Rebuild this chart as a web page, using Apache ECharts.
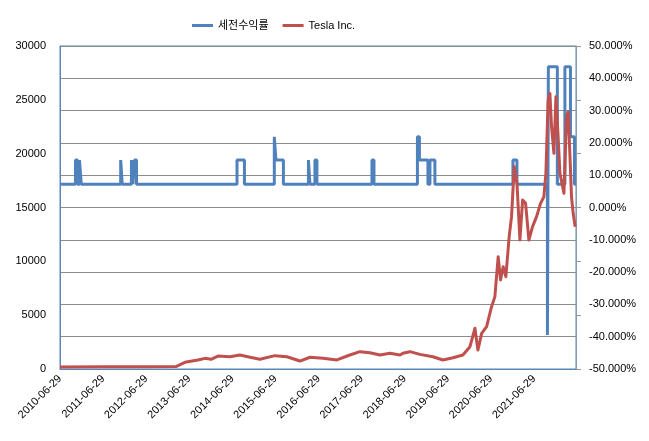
<!DOCTYPE html>
<html>
<head>
<meta charset="utf-8">
<script src="https://cdn.jsdelivr.net/npm/echarts@6/dist/echarts.min.js"></script>
<style>
  html, body { margin: 0; padding: 0; background: #fff; }
  #chart { width: 649px; height: 441px; }
</style>
</head>
<body>
<div id="chart"></div>
<script>
// x축 라벨 (1년 간격)
var xLabels = ['2010-06-29', '2011-06-29', '2012-06-29', '2013-06-29', '2014-06-29', '2015-06-29',
  '2016-06-29', '2017-06-29', '2018-06-29', '2019-06-29', '2020-06-29', '2021-06-29'];

// 세전수익률 (%), 값이 바뀌는 날짜
var retDates = ['2010-06-29', '2010-11-07', '2010-11-24', '2010-12-11', '2010-12-26',
  '2011-11-25', '2011-12-08', '2012-02-24', '2012-03-08', '2012-03-21', '2012-04-07',
  '2014-08-06', '2014-10-08', '2015-06-18', '2015-07-02', '2015-09-03',
  '2016-04-02', '2016-04-15', '2016-05-27', '2016-06-13', '2017-09-22', '2017-10-09',
  '2018-10-12', '2018-10-29', '2019-01-09', '2019-01-26', '2019-03-09',
  '2020-12-29', '2021-02-01', '2021-10-17', '2021-10-25', '2022-01-09',
  '2022-03-14', '2022-04-30', '2022-06-03', '2022-06-15'];
var retValues = [7.2, 14.7, 7.2, 14.7, 7.2,
  14.7, 7.2, 14.7, 7.2, 14.7, 7.2,
  14.7, 7.2, 21.9, 14.7, 7.2,
  14.7, 7.2, 14.7, 7.2, 14.7, 7.2,
  21.9, 14.7, 7.2, 14.7, 7.2,
  14.7, 7.2, -39.5, 43.6, 7.2,
  43.6, 21.9, 7.2, 7.2];

// Tesla Inc.
var teslaDates = ['2010-06-29', '2011-06-29', '2012-06-29', '2013-03-07', '2013-05-22', '2013-09-09',
  '2013-11-08', '2013-12-29', '2014-02-26', '2014-06-07', '2014-08-31', '2014-11-24', '2015-02-16',
  '2015-06-23', '2015-10-03', '2016-01-21', '2016-04-15', '2016-08-03', '2016-11-29', '2017-03-19',
  '2017-06-12', '2017-09-05', '2017-11-29', '2018-02-21', '2018-05-17', '2018-06-11', '2018-08-09',
  '2018-11-02', '2019-02-20', '2019-05-16', '2019-08-09', '2019-11-01', '2019-12-31', '2020-02-11',
  '2020-03-07', '2020-04-08', '2020-05-20', '2020-07-01', '2020-07-29', '2020-08-26', '2020-09-15',
  '2020-10-07', '2020-10-30', '2020-11-27', '2020-12-17', '2021-01-09', '2021-02-01', '2021-02-26',
  '2021-03-21', '2021-04-15', '2021-05-13', '2021-06-13', '2021-07-17', '2021-08-20', '2021-09-17',
  '2021-10-04', '2021-10-23', '2021-11-07', '2021-11-21', '2021-12-11', '2021-12-28', '2022-01-14',
  '2022-01-31', '2022-02-17', '2022-03-06', '2022-03-28', '2022-04-11', '2022-04-25', '2022-05-09',
  '2022-05-23', '2022-06-09'];
var teslaValues = [180, 200, 220, 230, 620, 840,
  990, 900, 1200, 1140, 1300, 1090, 900,
  1240, 1140, 740, 1090, 990, 840, 1300,
  1610, 1510, 1300, 1460, 1300, 1460, 1610,
  1360, 1140, 840, 1050, 1300, 2070, 3780,
  1760, 3310, 3930, 5790, 6720, 10430, 8270,
  9500, 8570, 12290, 14150, 18790, 17250, 11980,
  15700, 15390, 11980, 13220, 14150, 15390, 16000,
  18180, 24980, 25600, 22500, 20030, 25290, 21890,
  18180, 17250, 16320, 23430, 23900, 20030, 16000,
  14460, 13220];

var startDate = Date.UTC(2010, 5, 29);
function dayOf(s) {
	return (Date.parse(s) - startDate) / 86400000;
}
function pairs(dates, values) {
	var out = [];
	for (var i = 0; i < dates.length; i++) {
		out.push([dayOf(dates[i]), values[i]]);
	}
	return out;
}

var font = 'Liberation Sans, Arial, Noto Sans CJK KR, sans-serif';
var myChart = echarts.init(document.getElementById('chart'));
var option = {
	animation: false,
	legend: {
		top: 15,
		left: 187,
		icon: 'rect',
		itemWidth: 21,
		itemHeight: 3,
		itemGap: 14,
		textStyle: { fontFamily: font, fontSize: 11, color: '#000' },
		data: ['세전수익률', 'Tesla Inc.']
	},
	grid: {
		left: 60, right: 73, top: 46, bottom: 72,
		show: true, borderColor: '#5b84b8', borderWidth: 1,
		outerBoundsMode: 'none'
	},
	xAxis: {
		type: 'value',
		min: 0,
		max: 4370,
		interval: 365,
		axisLine: { show: true, lineStyle: { color: '#5b84b8' } },
		axisTick: { show: false },
		splitLine: { show: false },
		axisLabel: {
			rotate: 45,
			margin: 8,
			fontFamily: font,
			fontSize: 11,
			color: '#000',
			formatter: function (v) {
				return xLabels[Math.round(v / 365)] || '';
			}
		}
	},
	yAxis: [
		{
			type: 'value',
			position: 'left',
			min: 0, max: 30000, interval: 5000,
			axisLine: { show: true, lineStyle: { color: '#5b84b8' } },
			axisTick: { show: false },
			splitLine: { show: false },
			axisLabel: {
				margin: 14, fontFamily: font, fontSize: 11, color: '#000',
				formatter: function (v) { return String(v); }
			}
		},
		{
			type: 'value',
			position: 'right',
			min: -50, max: 50, interval: 10,
			axisLine: { show: true, lineStyle: { color: '#8a9bb0' } },
			axisTick: { show: false },
			splitLine: { show: true, lineStyle: { color: '#8c8c8c', width: 1 } },
			axisLabel: {
				margin: 13, fontFamily: font, fontSize: 11, color: '#000',
				formatter: function (v) { return v.toFixed(3) + '%'; }
			}
		},
		{
			// 오른쪽 눈금 표시만
			type: 'value',
			position: 'right',
			min: 0, max: 30000, interval: 5000,
			axisLine: { show: false },
			axisTick: { show: true, length: 5, lineStyle: { color: '#8a9bb0' } },
			splitLine: { show: false },
			axisLabel: { show: false }
		}
	],
	series: [
		{
			name: '세전수익률',
			type: 'line',
			yAxisIndex: 1,
			step: 'end',
			symbol: 'none',
			lineStyle: { color: '#4f81bd', width: 3 },
			itemStyle: { color: '#4f81bd' },
			data: pairs(retDates, retValues)
		},
		{
			name: 'Tesla Inc.',
			type: 'line',
			yAxisIndex: 0,
			symbol: 'none',
			lineStyle: { color: '#c0504d', width: 3, join: 'round' },
			itemStyle: { color: '#c0504d' },
			data: pairs(teslaDates, teslaValues)
		}
	]
};
myChart.setOption(option);
</script>
</body>
</html>
